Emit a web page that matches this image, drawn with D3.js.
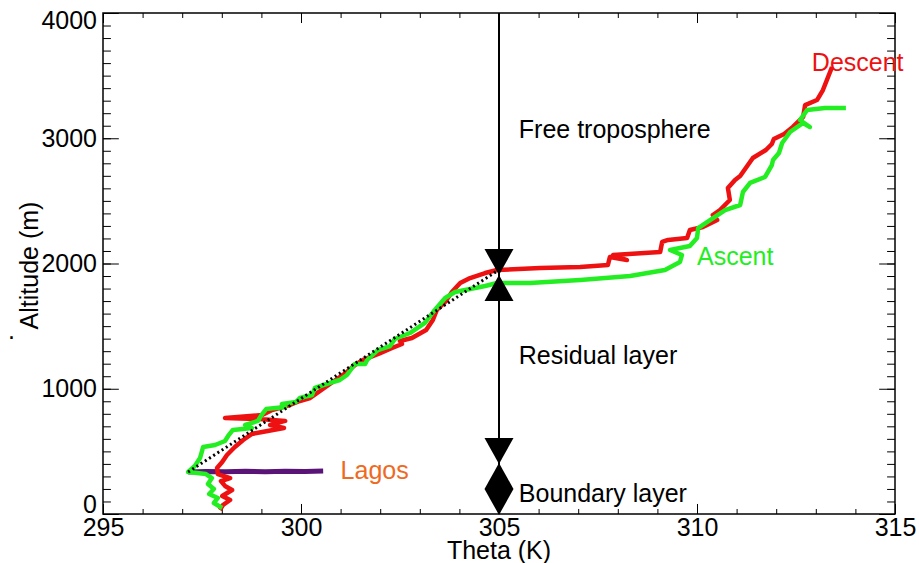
<!DOCTYPE html>
<html>
<head>
<meta charset="utf-8">
<script src="https://cdn.jsdelivr.net/npm/d3@7"></script>
<style>
  html, body { margin: 0; padding: 0; background: #fff; }
  svg text { font-family: "Liberation Sans", Arial, Helvetica, sans-serif; }
</style>
</head>
<body>
<svg id="chart" width="919" height="563"></svg>
<script>
// ---------- data ----------
const xTickValues = [295, 300, 305, 310, 315];
const yTickValues = [0, 1000, 2000, 3000, 4000];

// Descent profile (theta K, altitude m)
const descentTheta = [297.95,298.03,298.21,298.01,298.26,298.08,297.98,298.21,297.90,297.88,298.01,298.13,298.33,298.54,298.76,299.02,299.57,299.22,299.60,298.96,298.08,299.02,299.27,299.72,299.97,300.23,300.48,300.73,301.16,301.36,301.57,302.00,302.30,302.55,302.50,302.80,303.16,303.33,303.43,303.64,303.81,304.02,304.27,304.65,304.95,306.04,307.05,307.75,307.80,308.23,307.88,309.07,309.12,309.27,309.75,309.82,310.15,310.51,310.40,310.58,310.83,310.78,310.96,311.09,311.41,311.74,311.89,311.94,312.20,312.42,312.68,312.73,313.03,313.18,313.28,313.41];
const descentAlt   = [32,72,112,144,192,224,263,287,319,367,415,471,535,591,639,655,687,711,743,758,766,790,830,870,902,926,982,1038,1134,1190,1230,1285,1325,1357,1381,1405,1469,1549,1629,1693,1772,1844,1884,1924,1948,1964,1972,1988,2052,2028,2068,2092,2172,2188,2204,2267,2291,2347,2387,2427,2507,2603,2667,2699,2842,2906,2954,2994,3034,3090,3170,3265,3305,3385,3465,3569];

// Ascent profile
const ascentTheta = [298.01,297.80,297.90,297.68,297.80,297.65,297.75,297.60,297.15,297.32,297.45,297.53,297.83,298.08,298.16,298.28,298.76,298.59,298.91,299.02,299.12,299.60,299.52,299.87,299.97,300.28,300.35,300.81,300.98,301.16,301.36,301.62,301.67,301.94,302.25,302.37,302.75,303.13,303.38,303.64,303.89,304.27,304.65,304.95,305.78,307.05,308.31,309.19,309.57,309.62,309.32,309.82,310.00,310.03,310.33,310.71,311.09,311.16,311.34,311.72,311.89,311.92,312.07,312.15,312.35,312.68,312.85,312.60,312.78,313.23,313.76];
const ascentAlt   = [48,88,128,160,200,240,287,319,335,383,447,535,551,583,623,671,687,711,743,798,838,854,878,894,926,950,1006,1054,1070,1110,1198,1198,1230,1309,1341,1397,1445,1525,1629,1725,1772,1796,1820,1844,1844,1868,1900,1948,2012,2068,2108,2140,2204,2283,2347,2427,2467,2571,2643,2691,2786,2826,2882,2962,3050,3122,3090,3146,3225,3241,3241];

// Lagos level
const lagosTheta = [297.15, 297.6, 298.1, 298.6, 299.1, 299.6, 300.1, 300.56];
const lagosAlt   = [336, 340, 338, 341, 338, 342, 340, 344];

// Fitted residual-layer gradient (dotted)
const fitTheta = [297.15, 305.0];
const fitAlt   = [335, 1950];

// Layer markers on the 305 K line
const markerTheta = [305, 305, 305, 305];
const markerAlt   = [2012, 1804, 503, 200];
const markerType  = ["down", "up", "down", "diamond"];

// Guide line
const guideTheta = 305;
const guideAlt = [0, 4000];

// Labels
const annText  = ["Free troposphere", "Residual layer", "Boundary layer", "Descent", "Ascent", "Lagos"];
const annTheta = [305.5, 305.5, 305.5, 312.9, 310.0, 301.0];
const annAlt   = [3000, 1200, 96, 3540, 1990, 280];
const annColor = ["#000", "#000", "#000", "#ee1111", "#22ee22", "#ee6a22"];

// ---------- layout ----------
const svg = d3.select("#chart");
const L = 103, R = 895, T = 13, B = 514;
const x = d3.scaleLinear().domain([295, 315]).range([L, R]);
const y = d3.scaleLinear().domain([0, 4000]).range([B, T]);
const fs = 25;

// frame
svg.append("rect").attr("x", L).attr("y", T).attr("width", R - L).attr("height", B - T)
  .attr("fill", "none").attr("stroke", "#000").attr("stroke-width", 1.5);

const xMinor = d3.range(295, 315.01, 1);
const yMinor = d3.range(0, 4000.1, 100);
const xMaj = (B - T) * 0.02, yMaj = (R - L) * 0.02;

function styleAxis(g) {
  g.select(".domain").remove();
  g.selectAll(".tick line").attr("stroke", "#000").attr("stroke-width", 1);
  g.selectAll("text").attr("font-size", fs).attr("fill", "#000")
    .attr("font-family", "'Liberation Sans', Arial, sans-serif");
}

// bottom
svg.append("g").attr("transform", `translate(0,${B})`)
  .call(d3.axisBottom(x).tickValues(xMinor).tickSize(-xMaj / 2).tickFormat(""))
  .call(styleAxis);
svg.append("g").attr("transform", `translate(0,${B})`)
  .call(d3.axisBottom(x).tickValues(xTickValues).tickSize(-xMaj).tickPadding(4).tickFormat(d3.format("d")))
  .call(styleAxis);
// top
svg.append("g").attr("transform", `translate(0,${T})`)
  .call(d3.axisTop(x).tickValues(xMinor).tickSize(-xMaj / 2).tickFormat(""))
  .call(styleAxis);
svg.append("g").attr("transform", `translate(0,${T})`)
  .call(d3.axisTop(x).tickValues(xTickValues).tickSize(-xMaj).tickFormat(""))
  .call(styleAxis);
// left
svg.append("g").attr("transform", `translate(${L},0)`)
  .call(d3.axisLeft(y).tickValues(yMinor).tickSize(-yMaj / 2).tickFormat(""))
  .call(styleAxis);
const yAx = svg.append("g").attr("transform", `translate(${L},0)`)
  .call(d3.axisLeft(y).tickValues(yTickValues).tickSize(-yMaj).tickPadding(6).tickFormat(d3.format("d")))
  .call(styleAxis);
// first and last labels kept inside the frame's span, as in the original
yAx.selectAll(".tick text").attr("dy", d => d === 0 ? "-0.08em" : d === 4000 ? "0.6em" : "0.32em");
// right
svg.append("g").attr("transform", `translate(${R},0)`)
  .call(d3.axisRight(y).tickValues(yMinor).tickSize(-yMaj / 2).tickFormat(""))
  .call(styleAxis);
svg.append("g").attr("transform", `translate(${R},0)`)
  .call(d3.axisRight(y).tickValues(yTickValues).tickSize(-yMaj).tickFormat(""))
  .call(styleAxis);

// axis titles
svg.append("text").attr("x", (L + R) / 2).attr("y", 559).attr("text-anchor", "middle")
  .attr("font-size", fs).text("Theta (K)");
svg.append("text").attr("transform", `translate(38,${(T + B) / 2 + 2}) rotate(-90)`)
  .attr("text-anchor", "middle").attr("font-size", fs).text("Altitude (m)");
svg.append("text").attr("x", 8).attr("y", 339).attr("font-size", fs).text(".");

// helper
const line = d3.line().x(d => x(d[0])).y(d => y(d[1]));
const zip = (a, b) => a.map((v, i) => [v, b[i]]);

// guide vertical line
svg.append("path").datum([[guideTheta, guideAlt[0]], [guideTheta, guideAlt[1]]])
  .attr("d", line).attr("stroke", "#000").attr("stroke-width", 2).attr("fill", "none");

// profiles
svg.append("path").datum(zip(lagosTheta, lagosAlt)).attr("d", line)
  .attr("fill", "none").attr("stroke", "#5a1478").attr("stroke-width", 5).attr("stroke-linejoin", "round");
svg.append("path").datum(zip(descentTheta, descentAlt)).attr("d", line)
  .attr("fill", "none").attr("stroke", "#ee1111").attr("stroke-width", 4.5).attr("stroke-linejoin", "round");
svg.append("path").datum(zip(ascentTheta, ascentAlt)).attr("d", line)
  .attr("fill", "none").attr("stroke", "#22ee22").attr("stroke-width", 4.5).attr("stroke-linejoin", "round");
svg.append("path").datum(zip(fitTheta, fitAlt)).attr("d", line)
  .attr("fill", "none").attr("stroke", "#000").attr("stroke-width", 3).attr("stroke-dasharray", "2,3");

// markers
const hw = 14.5, hh = 13;
function markerPath(t) {
  if (t === "down") return `M${-hw},${-hh}L${hw},${-hh}L0,${hh}Z`;
  if (t === "up") return `M${-hw},${hh}L${hw},${hh}L0,${-hh}Z`;
  return `M0,${-2 * hh}L${hw},0L0,${2 * hh}L${-hw},0Z`;
}
svg.append("g").selectAll("path").data(markerType.map((t, i) => ({ t, th: markerTheta[i], a: markerAlt[i] })))
  .join("path")
  .attr("transform", d => `translate(${x(d.th)},${y(d.a)})`)
  .attr("d", d => markerPath(d.t)).attr("fill", "#000");

// annotations
svg.append("g").selectAll("text").data(annText.map((s, i) => ({ s, th: annTheta[i], a: annAlt[i], c: annColor[i] })))
  .join("text")
  .attr("x", d => x(d.th)).attr("y", d => y(d.a))
  .attr("font-size", fs).attr("fill", d => d.c).text(d => d.s);
</script>
</body>
</html>
